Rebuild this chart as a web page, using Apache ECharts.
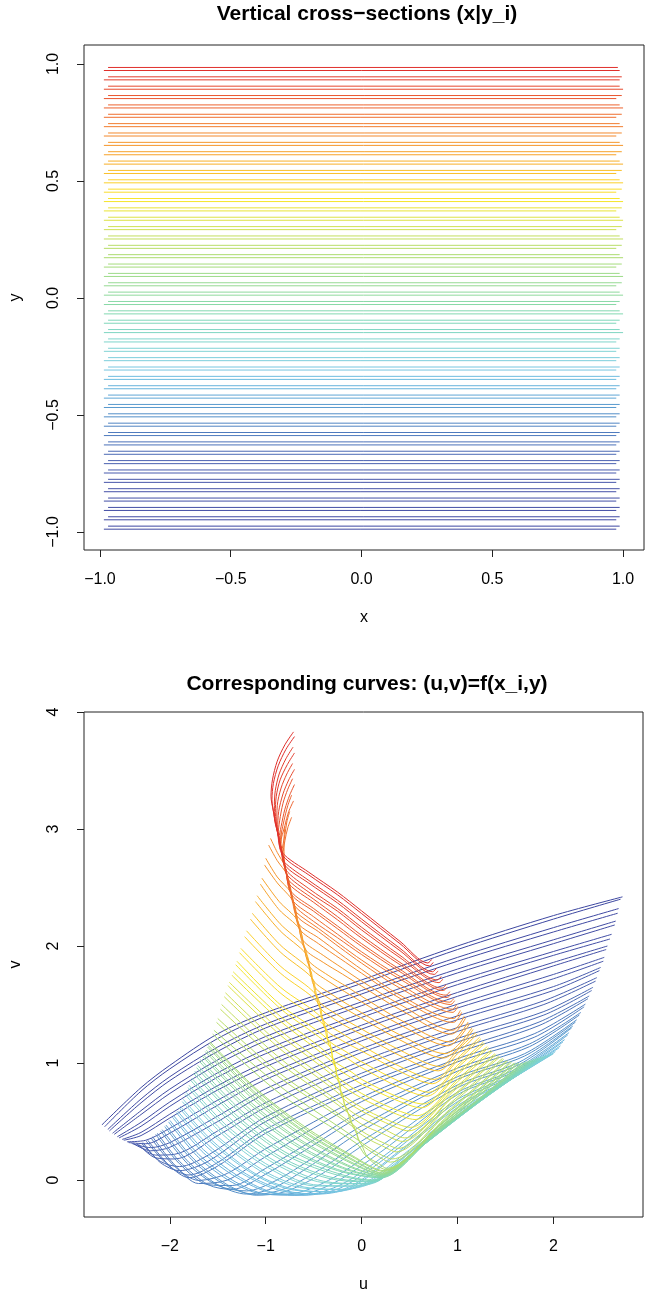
<!DOCTYPE html>
<html><head><meta charset="utf-8">
<script src="https://cdn.jsdelivr.net/npm/echarts@6/dist/echarts.min.js"></script>
<style>html,body{margin:0;padding:0;background:#fff}#c{width:645px;height:1296px}</style>
</head><body><div id="c"></div>
<script>
// ---------- DATA ----------
// Top panel: 50 pairs of horizontal cross-sections (two close lines per level)
const yLevelsA = [-0.975,-0.935,-0.895,-0.855,-0.815,-0.775,-0.735,-0.695,-0.655,-0.615,-0.575,-0.535,-0.495,-0.455,-0.415,-0.375,-0.335,-0.295,-0.255,-0.215,-0.175,-0.135,-0.095,-0.055,-0.015,0.025,0.065,0.105,0.145,0.185,0.225,0.265,0.305,0.345,0.385,0.425,0.465,0.505,0.545,0.585,0.625,0.665,0.705,0.745,0.785,0.825,0.865,0.905,0.945,0.985];
const yLevelsB = [-0.988,-0.948,-0.908,-0.868,-0.828,-0.788,-0.748,-0.708,-0.668,-0.628,-0.588,-0.548,-0.508,-0.468,-0.428,-0.388,-0.348,-0.308,-0.268,-0.228,-0.188,-0.148,-0.108,-0.068,-0.028,0.012,0.052,0.092,0.132,0.172,0.212,0.252,0.292,0.332,0.372,0.412,0.452,0.492,0.532,0.572,0.612,0.652,0.692,0.732,0.772,0.812,0.852,0.892,0.932,0.972];
const xStartA = -0.969;
const xStartB = -0.985;
const xEndA = [0.987,0.987,0.987,0.987,0.987,0.987,0.987,0.987,0.987,0.987,0.987,0.987,0.987,0.987,0.987,0.987,0.987,0.987,0.987,0.987,0.987,0.987,0.987,0.987,0.987,0.987,0.995,0.987,0.995,0.987,0.995,0.987,0.995,0.987,0.995,0.987,0.995,0.987,0.995,0.987,0.995,0.987,0.995,0.987,0.995,0.987,0.995,0.987,0.995,0.980];
const xEndB = [0.974,0.974,0.974,0.974,0.974,0.974,0.974,0.974,0.974,0.974,0.974,0.974,0.974,0.974,0.974,0.974,0.974,0.974,0.974,0.974,0.974,1.0,0.974,1.0,0.974,1.0,0.974,1.0,0.974,1.0,0.974,1.0,0.974,1.0,0.974,1.0,0.974,1.0,0.974,1.0,0.974,1.0,0.974,1.0,0.974,1.0,0.974,1.0,0.987,0.987];

// Bottom panel: image curves (u,v). "A" curves = first line of each pair, "B" = its partner.
const curvesBlueA = [
 [[-2.68,0.455],[-2.3,0.76],[-2.0,0.95],[-1.5,1.21],[-1.0,1.40],[0,1.68],[1.0,1.97],[2.0,2.23],[2.70,2.40]],
 [[-2.63,0.42],[-2.3,0.66],[-2.0,0.85],[-1.5,1.10],[-1.0,1.30],[0,1.59],[1.0,1.87],[2.0,2.12],[2.67,2.28]],
 [[-2.58,0.39],[-2.3,0.56],[-2.0,0.74],[-1.5,0.99],[-1.0,1.19],[0,1.49],[1.0,1.77],[2.0,2.02],[2.64,2.18]],
 [[-2.53,0.36],[-2.3,0.46],[-2.0,0.63],[-1.5,0.88],[-1.0,1.08],[0,1.39],[1.0,1.67],[2.0,1.92],[2.59,2.06]],
 [[-2.48,0.34],[-2.3,0.38],[-2.0,0.53],[-1.5,0.77],[-1.0,0.97],[0,1.29],[1.0,1.57],[2.0,1.83],[2.55,1.97]],
 [[-2.43,0.32],[-2.25,0.31],[-2.0,0.40],[-1.5,0.64],[-1.0,0.86],[0,1.19],[1.0,1.47],[2.0,1.72],[2.52,1.87]],
 [[-2.38,0.31],[-2.2,0.25],[-2.0,0.28],[-1.5,0.50],[-1.0,0.74],[0,1.09],[1.0,1.37],[2.0,1.62],[2.48,1.79]],
 [[-2.33,0.31],[-2.15,0.19],[-1.95,0.18],[-1.5,0.38],[-1.0,0.62],[0,0.98],[1.0,1.27],[1.9,1.50],[2.44,1.70]],
 [[-2.28,0.32],[-2.1,0.15],[-1.9,0.08],[-1.6,0.16],[-1.0,0.50],[0,0.88],[1.0,1.18],[1.9,1.41],[2.40,1.62]],
 [[-2.23,0.34],[-2.0,0.12],[-1.8,0.02],[-1.5,0.12],[-1.0,0.40],[0,0.78],[1.0,1.09],[1.85,1.32],[2.36,1.55]]
];
const curvesBlueB = [
 [[-2.71,0.47],[-2.3,0.79],[-2.0,0.98],[-1.5,1.25],[-1.0,1.43],[0,1.71],[1.0,2.0],[2.0,2.26],[2.72,2.42]],
 [[-2.647,0.432],[-2.3,0.693],[-2.0,0.883],[-1.5,1.137],[-1.0,1.333],[0,1.62],[1.0,1.903],[2.0,2.157],[2.68,2.32]],
 [[-2.597,0.40],[-2.3,0.593],[-2.0,0.777],[-1.5,1.027],[-1.0,1.227],[0,1.523],[1.0,1.803],[2.0,2.053],[2.65,2.213]],
 [[-2.547,0.37],[-2.3,0.493],[-2.0,0.667],[-1.5,0.917],[-1.0,1.117],[0,1.423],[1.0,1.703],[2.0,1.953],[2.607,2.10]],
 [[-2.497,0.347],[-2.3,0.407],[-2.0,0.563],[-1.5,0.807],[-1.0,1.007],[0,1.323],[1.0,1.603],[2.0,1.86],[2.563,2.0]],
 [[-2.447,0.327],[-2.25,0.34],[-2.0,0.443],[-1.5,0.683],[-1.0,0.897],[0,1.223],[1.0,1.503],[2.0,1.757],[2.53,1.903]],
 [[-2.397,0.313],[-2.2,0.277],[-2.0,0.32],[-1.5,0.547],[-1.0,0.78],[0,1.123],[1.0,1.403],[2.0,1.653],[2.493,1.817]],
 [[-2.347,0.31],[-2.15,0.213],[-1.95,0.22],[-1.5,0.42],[-1.0,0.66],[0,1.017],[1.0,1.303],[1.9,1.532],[2.453,1.73]],
 [[-2.297,0.317],[-2.1,0.16],[-1.9,0.115],[-1.6,0.213],[-1.0,0.54],[0,0.913],[1.0,1.21],[1.9,1.44],[2.413,1.647]],
 [[-2.247,0.333],[-2.0,0.113],[-1.8,0.043],[-1.5,0.15],[-1.0,0.433],[0,0.813],[1.0,1.12],[1.85,1.35],[2.373,1.573]]
];
const curvesCyanA = [
 [[-2.18,0.37],[-1.95,0.13],[-1.7,-0.03],[-1.4,0.0],[-1.0,0.20],[0,0.67],[1.0,1.01],[1.8,1.22],[2.32,1.48]],
 [[-2.13,0.40],[-1.9,0.16],[-1.6,-0.04],[-1.35,-0.08],[-1.0,0.05],[-0.5,0.30],[0,0.55],[1.0,0.93],[1.75,1.14],[2.27,1.41]],
 [[-2.08,0.43],[-1.8,0.15],[-1.5,-0.04],[-1.2,-0.12],[-0.9,-0.06],[-0.5,0.14],[0,0.42],[1.0,0.86],[1.7,1.06],[2.23,1.35]],
 [[-2.04,0.47],[-1.75,0.18],[-1.4,-0.04],[-1.1,-0.13],[-0.8,-0.10],[-0.4,0.06],[0,0.29],[1.0,0.79],[1.65,0.99],[2.19,1.30]],
 [[-2.00,0.51],[-1.7,0.22],[-1.35,0.0],[-1.0,-0.12],[-0.7,-0.13],[-0.3,-0.03],[0.2,0.24],[1.0,0.73],[1.6,0.93],[2.15,1.24]],
 [[-1.96,0.55],[-1.65,0.26],[-1.3,0.04],[-0.95,-0.10],[-0.6,-0.13],[-0.2,-0.06],[0.3,0.22],[1.0,0.67],[1.55,0.88],[2.10,1.18]],
 [[-1.92,0.59],[-1.6,0.30],[-1.2,0.05],[-0.8,-0.09],[-0.45,-0.12],[-0.1,-0.06],[0.4,0.24],[1.0,0.62],[1.5,0.84],[2.06,1.13]],
 [[-1.89,0.63],[-1.55,0.33],[-1.1,0.05],[-0.7,-0.08],[-0.3,-0.10],[0.05,-0.03],[0.5,0.24],[1.0,0.57],[1.5,0.83],[2.00,1.08]],
 [[-1.86,0.69],[-1.5,0.37],[-1.0,0.07],[-0.6,-0.06],[-0.2,-0.08],[0.12,-0.02],[0.5,0.23],[1.0,0.55],[1.5,0.83],[1.98,1.075]],
 [[-1.83,0.75],[-1.45,0.42],[-1.0,0.14],[-0.5,-0.04],[-0.1,-0.05],[0.17,-0.01],[0.6,0.28],[1.2,0.66],[1.95,1.07]],
 [[-1.80,0.81],[-1.4,0.46],[-0.9,0.16],[-0.4,-0.01],[0.0,-0.03],[0.19,0.0],[0.6,0.27],[1.2,0.65],[1.91,1.06]],
 [[-1.77,0.87],[-1.35,0.51],[-0.85,0.20],[-0.35,0.03],[0.05,-0.01],[0.2,0.01],[0.6,0.27],[1.2,0.65],[1.87,1.05]],
 [[-1.74,0.93],[-1.3,0.55],[-0.8,0.24],[-0.3,0.07],[0.1,0.0],[0.2,0.02],[0.6,0.28],[1.2,0.66],[1.83,1.04]]
];
const curvesCyanB = [
 [[-2.197,0.36],[-1.95,0.117],[-1.7,-0.003],[-1.4,0.057],[-1.0,0.267],[0,0.707],[1.0,1.037],[1.8,1.25],[2.333,1.503]],
 [[-2.147,0.39],[-1.9,0.14],[-1.6,-0.04],[-1.35,-0.047],[-1.0,0.10],[-0.5,0.343],[0,0.59],[1.0,0.957],[1.75,1.163],[2.287,1.433]],
 [[-2.097,0.42],[-1.8,0.127],[-1.5,-0.047],[-1.2,-0.093],[-0.9,-0.007],[-0.5,0.193],[0,0.463],[1.0,0.883],[1.7,1.08],[2.243,1.37]],
 [[-2.053,0.457],[-1.75,0.157],[-1.4,-0.053],[-1.1,-0.123],[-0.8,-0.073],[-0.4,0.107],[0,0.333],[1.0,0.813],[1.65,1.01],[2.203,1.317]],
 [[-2.013,0.497],[-1.7,0.193],[-1.35,-0.02],[-1.0,-0.123],[-0.7,-0.113],[-0.3,0.017],[0.2,0.29],[1.0,0.75],[1.6,0.945],[2.163,1.26]],
 [[-1.973,0.537],[-1.65,0.233],[-1.3,0.02],[-0.95,-0.108],[-0.6,-0.127],[-0.2,-0.033],[0.3,0.247],[1.0,0.69],[1.55,0.892],[2.117,1.20]],
 [[-1.933,0.577],[-1.6,0.273],[-1.2,0.033],[-0.8,-0.10],[-0.45,-0.117],[-0.1,-0.047],[0.4,0.253],[1.0,0.637],[1.5,0.847],[2.073,1.147]],
 [[-1.903,0.617],[-1.55,0.307],[-1.1,0.037],[-0.7,-0.087],[-0.3,-0.10],[0.05,-0.017],[0.5,0.26],[1.0,0.587],[1.5,0.833],[2.02,1.097]],
 [[-1.87,0.67],[-1.5,0.347],[-1.0,0.05],[-0.6,-0.07],[-0.2,-0.08],[0.12,-0.01],[0.5,0.233],[1.0,0.557],[1.5,0.83],[1.987,1.077]],
 [[-1.84,0.73],[-1.45,0.39],[-1.0,0.117],[-0.5,-0.05],[-0.1,-0.053],[0.17,-0.003],[0.6,0.283],[1.2,0.66],[1.96,1.072]],
 [[-1.81,0.79],[-1.4,0.433],[-0.9,0.137],[-0.4,-0.022],[0.0,-0.033],[0.19,0.0],[0.6,0.273],[1.2,0.653],[1.923,1.063]],
 [[-1.78,0.85],[-1.35,0.48],[-0.85,0.178],[-0.35,0.015],[0.05,-0.015],[0.2,0.007],[0.6,0.27],[1.2,0.65],[1.883,1.053]],
 [[-1.75,0.91],[-1.3,0.523],[-0.8,0.218],[-0.3,0.053],[0.1,-0.002],[0.2,0.017],[0.6,0.277],[1.2,0.657],[1.843,1.043]]
];
const curvesGreenA = [
 [[-1.71,0.98],[-1.25,0.59],[-0.75,0.28],[-0.25,0.09],[0.2,0.02],[0.7,0.34],[1.2,0.66],[1.79,1.03]],
 [[-1.68,1.03],[-1.2,0.63],[-0.7,0.32],[-0.2,0.11],[0.2,0.03],[0.7,0.35],[1.2,0.67],[1.75,1.02]],
 [[-1.65,1.07],[-1.15,0.66],[-0.65,0.35],[-0.15,0.13],[0.21,0.04],[0.7,0.36],[1.2,0.67],[1.71,1.01]],
 [[-1.62,1.11],[-1.1,0.69],[-0.6,0.38],[-0.1,0.15],[0.21,0.05],[0.7,0.37],[1.2,0.68],[1.67,1.00]],
 [[-1.60,1.15],[-1.1,0.74],[-0.6,0.42],[-0.1,0.18],[0.22,0.06],[0.8,0.44],[1.63,1.00]],
 [[-1.58,1.18],[-1.1,0.78],[-0.6,0.46],[-0.1,0.21],[0.23,0.08],[0.8,0.46],[1.59,1.00]]
];
const curvesGreenB = [
 [[-1.72,0.96],[-1.25,0.563],[-0.75,0.26],[-0.25,0.08],[0.2,0.02],[0.7,0.337],[1.2,0.66],[1.803,1.033]],
 [[-1.69,1.013],[-1.2,0.603],[-0.7,0.30],[-0.2,0.10],[0.2,0.027],[0.7,0.347],[1.2,0.667],[1.763,1.023]],
 [[-1.66,1.057],[-1.15,0.637],[-0.65,0.333],[-0.15,0.12],[0.21,0.037],[0.7,0.357],[1.2,0.67],[1.723,1.013]],
 [[-1.63,1.097],[-1.1,0.667],[-0.6,0.363],[-0.1,0.14],[0.21,0.047],[0.7,0.367],[1.2,0.677],[1.683,1.003]],
 [[-1.607,1.137],[-1.1,0.723],[-0.6,0.407],[-0.1,0.17],[0.22,0.057],[0.8,0.437],[1.643,1.0]],
 [[-1.587,1.17],[-1.1,0.767],[-0.6,0.443],[-0.1,0.20],[0.23,0.073],[0.8,0.453],[1.603,1.0]]
];
const curvesYellowA = [
 [[-1.54,1.28],[-0.85,0.80],[-0.035,0.34],[0.0,0.30],[0.06,0.20],[0.18,0.14],[0.26,0.10],[0.9,0.55],[1.55,1.01]],
 [[-1.50,1.38],[-0.85,0.91],[-0.10,0.48],[-0.05,0.39],[-0.03,0.34],[0.15,0.24],[0.32,0.18],[0.9,0.59],[1.51,1.02]],
 [[-1.46,1.50],[-0.85,1.04],[-0.16,0.62],[-0.145,0.58],[-0.10,0.48],[0.1,0.37],[0.25,0.31],[0.38,0.27],[0.9,0.64],[1.47,1.04]],
 [[-1.42,1.60],[-0.85,1.16],[-0.215,0.76],[-0.19,0.68],[-0.16,0.62],[0.0,0.53],[0.2,0.45],[0.45,0.36],[0.95,0.72],[1.43,1.06]],
 [[-1.38,1.69],[-0.85,1.28],[-0.26,0.90],[-0.23,0.81],[-0.21,0.74],[0.0,0.62],[0.25,0.52],[0.51,0.45],[0.95,0.77],[1.39,1.08]],
 [[-1.34,1.78],[-0.85,1.40],[-0.30,1.04],[-0.27,0.94],[-0.25,0.88],[0.0,0.74],[0.3,0.62],[0.58,0.55],[1.0,0.86],[1.35,1.11]],
 [[-1.30,1.87],[-0.85,1.50],[-0.35,1.20],[-0.31,1.07],[-0.295,1.02],[-0.1,0.92],[0.0,0.86],[0.35,0.72],[0.64,0.65],[1.0,0.92],[1.31,1.14]],
 [[-1.26,1.98],[-0.85,1.65],[-0.41,1.38],[-0.35,1.20],[-0.15,1.09],[0.0,1.01],[0.4,0.84],[0.70,0.75],[1.0,0.98],[1.27,1.18]],
 [[-1.20,2.13],[-0.85,1.83],[-0.47,1.58],[-0.405,1.37],[-0.2,1.25],[0.0,1.15],[0.4,0.97],[0.76,0.86],[1.0,1.04],[1.23,1.22]]
];
const curvesYellowB = [
 [[-1.553,1.247],[-0.85,0.737],[-0.05,0.31],[0.03,0.22],[0.15,0.13],[0.25,0.09],[0.9,0.54],[1.563,1.007]],
 [[-1.513,1.347],[-0.85,0.873],[-0.09,0.455],[-0.04,0.37],[-0.01,0.31],[0.16,0.21],[0.30,0.153],[0.9,0.577],[1.523,1.017]],
 [[-1.473,1.46],[-0.85,0.997],[-0.143,0.575],[-0.10,0.48],[-0.076,0.433],[0.1,0.337],[0.22,0.29],[0.36,0.24],[0.9,0.623],[1.483,1.033]],
 [[-1.433,1.567],[-0.85,1.12],[-0.20,0.713],[-0.18,0.65],[-0.142,0.573],[0.0,0.477],[0.2,0.403],[0.427,0.33],[0.93,0.693],[1.443,1.053]],
 [[-1.393,1.66],[-0.85,1.24],[-0.243,0.853],[-0.22,0.78],[-0.197,0.70],[0.0,0.59],[0.25,0.49],[0.49,0.42],[0.95,0.753],[1.403,1.073]],
 [[-1.353,1.75],[-0.85,1.36],[-0.286,0.993],[-0.26,0.91],[-0.237,0.833],[0.0,0.70],[0.3,0.585],[0.557,0.517],[1.0,0.84],[1.363,1.10]],
 [[-1.313,1.84],[-0.85,1.467],[-0.334,1.147],[-0.30,1.04],[-0.28,0.973],[-0.1,0.87],[0.0,0.82],[0.35,0.687],[0.62,0.617],[1.0,0.90],[1.323,1.13]],
 [[-1.273,1.943],[-0.85,1.60],[-0.388,1.32],[-0.332,1.14],[-0.15,1.04],[0.0,0.96],[0.4,0.79],[0.68,0.717],[1.0,0.96],[1.283,1.167]],
 [[-1.22,2.08],[-0.85,1.77],[-0.452,1.513],[-0.38,1.293],[-0.2,1.19],[0.0,1.103],[0.4,0.927],[0.74,0.823],[1.0,1.02],[1.243,1.207]]
];
const curvesOrangeA = [
 [[-1.14,2.28],[-0.85,2.01],[-0.54,1.80],[-0.51,1.71],[-0.46,1.54],[-0.25,1.41],[0.0,1.29],[0.4,1.11],[0.82,0.97],[1.0,1.11],[1.19,1.26]],
 [[-1.09,2.43],[-0.85,2.19],[-0.60,2.00],[-0.56,1.88],[-0.51,1.71],[-0.3,1.58],[0.0,1.43],[0.4,1.24],[0.87,1.08],[1.15,1.30]],
 [[-1.04,2.58],[-0.86,2.38],[-0.67,2.22],[-0.61,2.03],[-0.56,1.88],[-0.35,1.75],[-0.15,1.65],[0.0,1.57],[0.4,1.37],[0.92,1.18],[1.11,1.35]],
 [[-1.00,2.75],[-0.88,2.59],[-0.74,2.46],[-0.705,2.35],[-0.66,2.19],[-0.615,2.05],[-0.4,1.92],[-0.2,1.81],[0.0,1.70],[0.4,1.50],[0.95,1.28],[1.07,1.40]],
 [[-0.95,2.92],[-0.88,2.80],[-0.80,2.68],[-0.75,2.50],[-0.705,2.35],[-0.66,2.19],[-0.45,2.07],[-0.22,1.93],[0.0,1.80],[0.4,1.58],[0.96,1.38],[1.03,1.45]]
];
const curvesOrangeB = [
 [[-1.16,2.23],[-0.85,1.95],[-0.515,1.727],[-0.48,1.62],[-0.44,1.477],[-0.25,1.357],[0.0,1.243],[0.4,1.063],[0.80,0.933],[1.0,1.08],[1.203,1.247]],
 [[-1.107,2.38],[-0.85,2.13],[-0.578,1.933],[-0.54,1.82],[-0.493,1.653],[-0.3,1.53],[0.0,1.383],[0.4,1.197],[0.853,1.043],[1.163,1.287]],
 [[-1.057,2.53],[-0.86,2.31],[-0.648,2.147],[-0.60,2.0],[-0.543,1.823],[-0.35,1.70],[0.0,1.523],[0.4,1.327],[0.903,1.147],[1.123,1.333]],
 [[-1.013,2.693],[-0.88,2.54],[-0.714,2.38],[-0.66,2.19],[-0.592,1.975],[-0.4,1.86],[-0.2,1.76],[0.0,1.657],[0.4,1.457],[0.94,1.247],[1.083,1.383]],
 [[-0.97,2.863],[-0.88,2.73],[-0.777,2.607],[-0.705,2.35],[-0.645,2.143],[-0.45,2.02],[-0.22,1.89],[0.0,1.767],[0.4,1.553],[0.957,1.347],[1.043,1.433]]
];
const curvesRedA = [
 [[-0.80,3.02],[-0.81,2.90],[-0.805,2.72],[-0.79,2.65],[-0.75,2.50],[-0.705,2.35],[-0.685,2.29],[-0.45,2.15],[-0.22,2.01],[0.0,1.88],[0.4,1.67],[0.95,1.46],[0.99,1.50]],
 [[-0.75,3.15],[-0.78,3.06],[-0.80,2.95],[-0.83,2.80],[-0.79,2.65],[-0.75,2.50],[-0.71,2.38],[-0.5,2.25],[-0.25,2.10],[0.0,1.95],[0.4,1.74],[0.92,1.52],[0.96,1.55]],
 [[-0.73,3.29],[-0.77,3.20],[-0.81,3.07],[-0.85,2.88],[-0.83,2.80],[-0.79,2.65],[-0.74,2.47],[-0.5,2.32],[-0.25,2.17],[0.0,2.02],[0.4,1.80],[0.88,1.58],[0.92,1.61]],
 [[-0.72,3.43],[-0.77,3.34],[-0.82,3.22],[-0.855,3.07],[-0.87,2.95],[-0.83,2.80],[-0.79,2.65],[-0.76,2.56],[-0.5,2.40],[-0.25,2.25],[0.0,2.09],[0.4,1.86],[0.84,1.64],[0.88,1.67]],
 [[-0.72,3.56],[-0.78,3.47],[-0.84,3.35],[-0.88,3.20],[-0.885,3.02],[-0.87,2.95],[-0.83,2.80],[-0.79,2.65],[-0.55,2.49],[-0.25,2.32],[0.0,2.16],[0.4,1.92],[0.79,1.71],[0.83,1.74]],
 [[-0.715,3.70],[-0.79,3.60],[-0.86,3.47],[-0.90,3.33],[-0.91,3.20],[-0.91,3.10],[-0.87,2.95],[-0.83,2.80],[-0.81,2.72],[-0.55,2.56],[-0.25,2.39],[0.0,2.23],[0.4,1.98],[0.74,1.78],[0.78,1.81]],
 [[-0.71,3.83],[-0.80,3.72],[-0.88,3.58],[-0.93,3.42],[-0.945,3.28],[-0.92,3.15],[-0.91,3.10],[-0.87,2.95],[-0.83,2.80],[-0.55,2.63],[-0.25,2.46],[0.0,2.30],[0.4,2.04],[0.69,1.855],[0.73,1.885]]
];
const curvesRedB = [
 [[-0.84,2.985],[-0.84,2.86],[-0.81,2.70],[-0.77,2.56],[-0.73,2.43],[-0.677,2.257],[-0.45,2.123],[-0.22,1.983],[0.0,1.853],[0.4,1.64],[0.953,1.433],[1.003,1.483]],
 [[-0.73,3.10],[-0.77,3.01],[-0.80,2.90],[-0.82,2.78],[-0.785,2.63],[-0.745,2.48],[-0.705,2.35],[-0.5,2.21],[-0.25,2.07],[0.0,1.927],[0.4,1.717],[0.93,1.50],[0.97,1.533]],
 [[-0.71,3.24],[-0.76,3.15],[-0.80,3.03],[-0.845,2.87],[-0.83,2.80],[-0.79,2.65],[-0.732,2.44],[-0.5,2.297],[-0.25,2.147],[0.0,1.997],[0.4,1.78],[0.893,1.56],[0.933,1.59]],
 [[-0.70,3.38],[-0.75,3.29],[-0.80,3.17],[-0.84,3.02],[-0.86,2.92],[-0.83,2.80],[-0.79,2.65],[-0.758,2.53],[-0.5,2.373],[-0.25,2.223],[0.0,2.067],[0.4,1.84],[0.853,1.62],[0.893,1.65]],
 [[-0.70,3.51],[-0.76,3.42],[-0.82,3.30],[-0.865,3.15],[-0.875,3.0],[-0.845,2.86],[-0.81,2.72],[-0.78,2.61],[-0.55,2.46],[-0.25,2.297],[0.0,2.137],[0.4,1.90],[0.807,1.687],[0.847,1.717]],
 [[-0.70,3.65],[-0.775,3.55],[-0.85,3.42],[-0.89,3.28],[-0.90,3.14],[-0.88,3.0],[-0.845,2.86],[-0.80,2.69],[-0.55,2.537],[-0.25,2.367],[0.0,2.207],[0.4,1.96],[0.757,1.757],[0.797,1.787]],
 [[-0.70,3.79],[-0.79,3.68],[-0.87,3.54],[-0.92,3.39],[-0.935,3.25],[-0.915,3.13],[-0.88,2.98],[-0.822,2.773],[-0.55,2.607],[-0.25,2.437],[0.0,2.277],[0.4,2.02],[0.707,1.83],[0.747,1.86]]
];

const xTicks = [-1, -0.5, 0, 0.5, 1];
const yTicks = [-1, -0.5, 0, 0.5, 1];
const uTicks = [-2, -1, 0, 1, 2];
const vTicks = [0, 1, 2, 3, 4];

// ---------- STYLE ----------
const paletteStops = [
 [0,'#3D47A1'],[0.09,'#4551A8'],[0.14,'#4A60AF'],[0.20,'#4C78BD'],[0.26,'#5695CC'],[0.30,'#64B0DB'],
 [0.34,'#74C4E2'],[0.38,'#80D2D9'],[0.42,'#7ED6C6'],[0.46,'#80D8B5'],[0.50,'#8CD9A2'],[0.55,'#9DDB8A'],
 [0.59,'#ABDC70'],[0.65,'#CDE058'],[0.69,'#E8E436'],[0.72,'#F8E52A'],[0.75,'#FCD52B'],[0.80,'#F8AC27'],
 [0.87,'#F3822F'],[0.93,'#EC5A2E'],[1,'#E0302B']
];
function hex2rgb(h){return [parseInt(h.slice(1,3),16),parseInt(h.slice(3,5),16),parseInt(h.slice(5,7),16)];}
function colorAt(t){
  for(let i=1;i<paletteStops.length;i++){
    if(t<=paletteStops[i][0]){
      const a=paletteStops[i-1], b=paletteStops[i];
      const f=(t-a[0])/(b[0]-a[0]);
      const ca=hex2rgb(a[1]), cb=hex2rgb(b[1]);
      const c=ca.map((v,j)=>Math.round(v+(cb[j]-v)*f));
      return 'rgb('+c.join(',')+')';
    }
  }
  return paletteStops[paletteStops.length-1][1];
}
const FONT = 'Liberation Sans, Arial, Helvetica, sans-serif';
const minus = s => s.replace('-', '\u2212');

const curvesA = [].concat(curvesBlueA, curvesCyanA, curvesGreenA, curvesYellowA, curvesOrangeA, curvesRedA);
const curvesB = [].concat(curvesBlueB, curvesCyanB, curvesGreenB, curvesYellowB, curvesOrangeB, curvesRedB);
const nLevels = yLevelsA.length;

const series = [];
for (let k=0;k<nLevels;k++){
  const col = colorAt(k/(nLevels-1));
  series.push({type:'line', xAxisIndex:0, yAxisIndex:0, symbol:'none', silent:true,
    lineStyle:{color:col, width:1}, data:[[xStartA, yLevelsA[k]],[xEndA[k], yLevelsA[k]]]});
  series.push({type:'line', xAxisIndex:0, yAxisIndex:0, symbol:'none', silent:true,
    lineStyle:{color:col, width:1}, data:[[xStartB, yLevelsB[k]],[xEndB[k], yLevelsB[k]]]});
}
for (let k=0;k<curvesA.length;k++){
  const col = colorAt(k/(curvesA.length-1));
  series.push({type:'line', xAxisIndex:1, yAxisIndex:1, symbol:'none', silent:true, smooth:0.3,
    lineStyle:{color:col, width:1}, data:curvesA[k]});
  series.push({type:'line', xAxisIndex:1, yAxisIndex:1, symbol:'none', silent:true, smooth:0.3,
    lineStyle:{color:col, width:1}, data:curvesB[k]});
}

function xAxisCfg(grid, min, max, ticks, name, fmt){
  return {gridIndex:grid, type:'value', min:min, max:max, name:name, nameLocation:'middle', nameGap:60,
    nameTextStyle:{fontSize:16, color:'#000', fontFamily:FONT},
    axisLine:{show:false, onZero:false}, splitLine:{show:false},
    axisTick:{show:true, length:7, customValues:ticks, lineStyle:{color:'#222', width:1}},
    axisLabel:{customValues:ticks, formatter:fmt, fontSize:16, color:'#000', fontFamily:FONT, margin:22}};
}
function yAxisCfg(grid, min, max, ticks, name, fmt){
  return {gridIndex:grid, type:'value', min:min, max:max, name:name, nameLocation:'middle', nameGap:60, nameRotate:90,
    nameTextStyle:{fontSize:16, color:'#000', fontFamily:FONT},
    axisLine:{show:false, onZero:false}, splitLine:{show:false},
    axisTick:{show:true, length:7, customValues:ticks, lineStyle:{color:'#222', width:1}},
    axisLabel:{customValues:ticks, formatter:fmt, rotate:90, fontSize:16, color:'#000', fontFamily:FONT, margin:22}};
}
const fmt1 = v => minus(Number(v).toFixed(1));
const fmt0 = v => minus(String(Math.round(v)));

const option = {
  animation:false,
  backgroundColor:'#fff',
  title:[
    {text:'Vertical cross\u2212sections (x|y_i)', left:362, top:-1, textAlign:'center',
     textStyle:{fontSize:21, fontWeight:'bold', color:'#000', fontFamily:FONT}},
    {text:'Corresponding curves: (u,v)=f(x_i,y)', left:362, top:669, textAlign:'center',
     textStyle:{fontSize:21, fontWeight:'bold', color:'#000', fontFamily:FONT}}
  ],
  grid:[
    {left:82, top:45, width:562, height:505, show:true, borderColor:'#222', borderWidth:1, backgroundColor:'transparent'},
    {left:82, top:712, width:561, height:505, show:true, borderColor:'#222', borderWidth:1, backgroundColor:'transparent'}
  ],
  xAxis:[
    xAxisCfg(0, -1.061, 1.080, xTicks, 'x', fmt1),
    xAxisCfg(1, -2.895, 2.934, uTicks, 'u', fmt0)
  ],
  yAxis:[
    yAxisCfg(0, -1.077, 1.081, yTicks, 'y', fmt1),
    yAxisCfg(1, -0.316, 4.0, vTicks, 'v', fmt0)
  ],
  series:series
};
const chart = echarts.init(document.getElementById('c'), null, {renderer:'canvas'});
chart.setOption(option);
</script></body></html>
